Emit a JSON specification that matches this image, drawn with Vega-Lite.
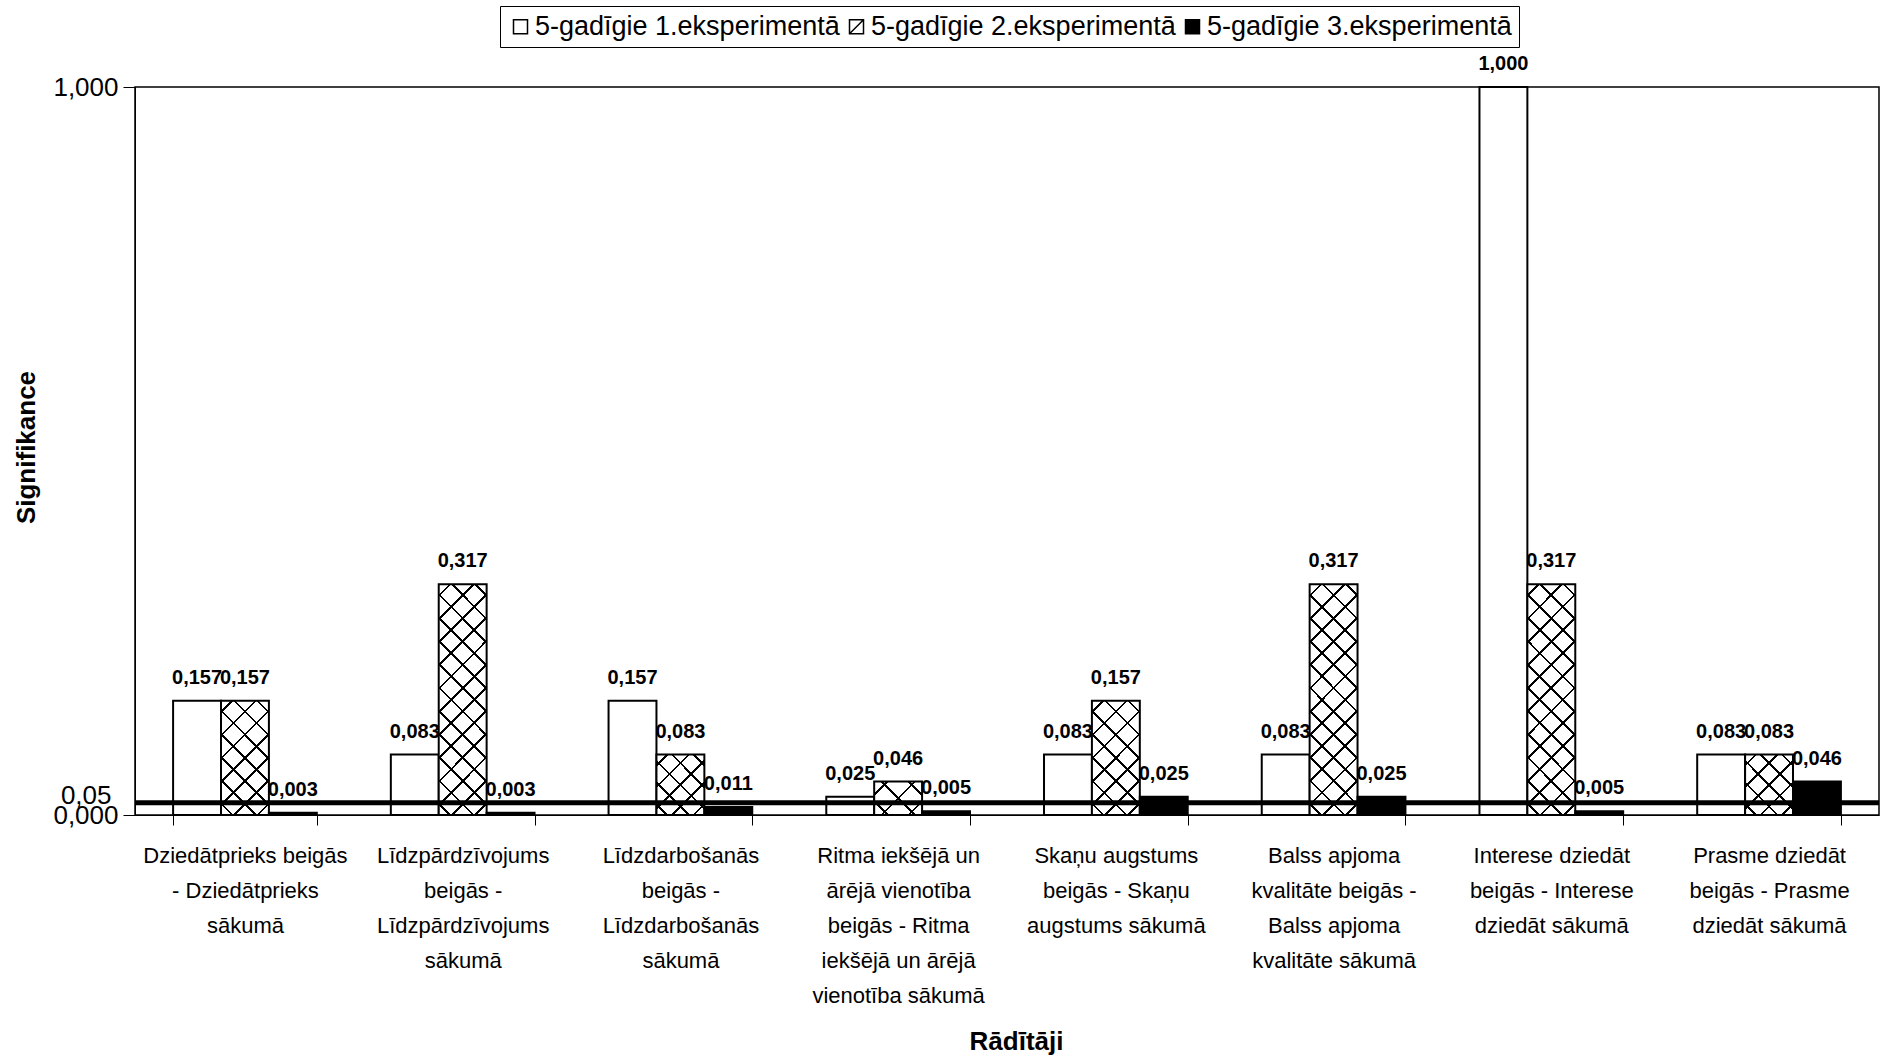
{
"$schema": "https://vega.github.io/schema/vega-lite/v6.json",
"width": 1744,
"height": 728,
"autosize": "none",
"padding": {"left": 135, "top": 87, "right": 6, "bottom": 242},
"background": "white",
"config": {
  "font": "Liberation Sans",
  "locale": {"number": {"decimal": ",", "thousands": " ", "grouping": [3], "currency": ["", ""]}},
  "view": {"stroke": "black", "strokeWidth": 1.5}
},
"data": {"values": [
  {"cat": "Dziedātprieks beigās\n- Dziedātprieks\nsākumā", "exp": "5-gadīgie 1.eksperimentā", "v": 0.157},
  {"cat": "Dziedātprieks beigās\n- Dziedātprieks\nsākumā", "exp": "5-gadīgie 2.eksperimentā", "v": 0.157},
  {"cat": "Dziedātprieks beigās\n- Dziedātprieks\nsākumā", "exp": "5-gadīgie 3.eksperimentā", "v": 0.003},
  {"cat": "Līdzpārdzīvojums\nbeigās -\nLīdzpārdzīvojums\nsākumā", "exp": "5-gadīgie 1.eksperimentā", "v": 0.083},
  {"cat": "Līdzpārdzīvojums\nbeigās -\nLīdzpārdzīvojums\nsākumā", "exp": "5-gadīgie 2.eksperimentā", "v": 0.317},
  {"cat": "Līdzpārdzīvojums\nbeigās -\nLīdzpārdzīvojums\nsākumā", "exp": "5-gadīgie 3.eksperimentā", "v": 0.003},
  {"cat": "Līdzdarbošanās\nbeigās -\nLīdzdarbošanās\nsākumā", "exp": "5-gadīgie 1.eksperimentā", "v": 0.157},
  {"cat": "Līdzdarbošanās\nbeigās -\nLīdzdarbošanās\nsākumā", "exp": "5-gadīgie 2.eksperimentā", "v": 0.083},
  {"cat": "Līdzdarbošanās\nbeigās -\nLīdzdarbošanās\nsākumā", "exp": "5-gadīgie 3.eksperimentā", "v": 0.011},
  {"cat": "Ritma iekšējā un\nārējā vienotība\nbeigās - Ritma\niekšējā un ārējā\nvienotība sākumā", "exp": "5-gadīgie 1.eksperimentā", "v": 0.025},
  {"cat": "Ritma iekšējā un\nārējā vienotība\nbeigās - Ritma\niekšējā un ārējā\nvienotība sākumā", "exp": "5-gadīgie 2.eksperimentā", "v": 0.046},
  {"cat": "Ritma iekšējā un\nārējā vienotība\nbeigās - Ritma\niekšējā un ārējā\nvienotība sākumā", "exp": "5-gadīgie 3.eksperimentā", "v": 0.005},
  {"cat": "Skaņu augstums\nbeigās - Skaņu\naugstums sākumā", "exp": "5-gadīgie 1.eksperimentā", "v": 0.083},
  {"cat": "Skaņu augstums\nbeigās - Skaņu\naugstums sākumā", "exp": "5-gadīgie 2.eksperimentā", "v": 0.157},
  {"cat": "Skaņu augstums\nbeigās - Skaņu\naugstums sākumā", "exp": "5-gadīgie 3.eksperimentā", "v": 0.025},
  {"cat": "Balss apjoma\nkvalitāte beigās -\nBalss apjoma\nkvalitāte sākumā", "exp": "5-gadīgie 1.eksperimentā", "v": 0.083},
  {"cat": "Balss apjoma\nkvalitāte beigās -\nBalss apjoma\nkvalitāte sākumā", "exp": "5-gadīgie 2.eksperimentā", "v": 0.317},
  {"cat": "Balss apjoma\nkvalitāte beigās -\nBalss apjoma\nkvalitāte sākumā", "exp": "5-gadīgie 3.eksperimentā", "v": 0.025},
  {"cat": "Interese dziedāt\nbeigās - Interese\ndziedāt sākumā", "exp": "5-gadīgie 1.eksperimentā", "v": 1.0},
  {"cat": "Interese dziedāt\nbeigās - Interese\ndziedāt sākumā", "exp": "5-gadīgie 2.eksperimentā", "v": 0.317},
  {"cat": "Interese dziedāt\nbeigās - Interese\ndziedāt sākumā", "exp": "5-gadīgie 3.eksperimentā", "v": 0.005},
  {"cat": "Prasme dziedāt\nbeigās - Prasme\ndziedāt sākumā", "exp": "5-gadīgie 1.eksperimentā", "v": 0.083},
  {"cat": "Prasme dziedāt\nbeigās - Prasme\ndziedāt sākumā", "exp": "5-gadīgie 2.eksperimentā", "v": 0.083},
  {"cat": "Prasme dziedāt\nbeigās - Prasme\ndziedāt sākumā", "exp": "5-gadīgie 3.eksperimentā", "v": 0.046}
]},
"layer": [
  {
    "encoding": {
      "x": {"field": "cat", "type": "nominal", "sort": null, "title": "Rādītāji",
        "scale": {"paddingInner": 0.34, "paddingOuter": 0.175},
        "axis": {"tickBand": "extent", "tickSize": 10, "labelPadding": 20, "labelFontSize": 22, "labelLineHeight": 35, "labelAngle": 0, "labelLimit": 400, "labelColor": "black", "domainColor": "black", "tickColor": "black", "labelOverlap": false, "labelExpr": "split(datum.label, '\\n')", "titleFontSize": 26, "titleFontWeight": "bold", "titleColor": "black", "titleX": 881, "titleY": 226, "titleBaseline": "middle"}},
      "xOffset": {"field": "exp", "type": "nominal", "scale": {"domain": ["5-gadīgie 1.eksperimentā", "5-gadīgie 2.eksperimentā", "5-gadīgie 3.eksperimentā"], "paddingInner": 0, "paddingOuter": 0}},
      "y": {"field": "v", "type": "quantitative", "title": "Signifikance",
        "scale": {"domain": [0, 1], "nice": false},
        "axis": {"values": [0, 1], "format": ".3f", "tickSize": 12, "labelPadding": 5, "labelFontSize": 26, "labelColor": "black", "domainColor": "black", "tickColor": "black", "grid": false, "labelOverlap": false, "labelFlush": false, "titleFontSize": 26, "titleFontWeight": "bold", "titleColor": "black", "titleX": -109, "titleY": 360, "titleBaseline": "middle"}}
    },
    "layer": [
      {
        "mark": {"type": "bar", "stroke": "black", "strokeWidth": 2},
        "encoding": {
          "fill": {"field": "exp", "type": "nominal",
            "scale": {"domain": ["5-gadīgie 1.eksperimentā", "5-gadīgie 2.eksperimentā", "5-gadīgie 3.eksperimentā"], "range": ["white", "white", "black"]},
            "legend": {"orient": "none", "legendX": 365, "legendY": -81, "direction": "horizontal", "title": null, "strokeColor": "black", "padding": 7, "symbolType": "square", "symbolSize": 196, "symbolStrokeColor": "black", "symbolStrokeWidth": 1.5, "labelFontSize": 27, "labelLimit": 500, "labelOffset": 1, "columnPadding": 3, "labelColor": "black",
              "encode": {"symbols": {"update": {
                "stroke": {"value": "black"},
                "strokeWidth": {"value": 1.5},
                "shape": [
                  {"test": "datum.value === '5-gadīgie 2.eksperimentā'", "value": "M-1,-1H1V1H-1Z M-1,1L1,-1"},
                  {"value": "square"}
                ]
              }}}}
          }
        }
      },
      {
        "transform": [{"filter": "datum.exp === '5-gadīgie 2.eksperimentā'"}],
        "mark": {"type": "bar", "strokeWidth": 0},
        "encoding": {
          "fill": {"condition": [
            {"test": "datum.v > 0.3", "value": {"gradient": "linear", "x1": 0, "y1": 0, "x2": 0.241, "y2": 1.158, "stops": [
              {"offset": 0, "color": "transparent"},
              {"offset": 0.0367, "color": "transparent"}, {"offset": 0.0367, "color": "#000"}, {"offset": 0.0467, "color": "#000"}, {"offset": 0.0467, "color": "transparent"},
              {"offset": 0.12, "color": "transparent"}, {"offset": 0.12, "color": "#000"}, {"offset": 0.13, "color": "#000"}, {"offset": 0.13, "color": "transparent"},
              {"offset": 0.2033, "color": "transparent"}, {"offset": 0.2033, "color": "#000"}, {"offset": 0.2133, "color": "#000"}, {"offset": 0.2133, "color": "transparent"},
              {"offset": 0.2867, "color": "transparent"}, {"offset": 0.2867, "color": "#000"}, {"offset": 0.2967, "color": "#000"}, {"offset": 0.2967, "color": "transparent"},
              {"offset": 0.37, "color": "transparent"}, {"offset": 0.37, "color": "#000"}, {"offset": 0.38, "color": "#000"}, {"offset": 0.38, "color": "transparent"},
              {"offset": 0.4533, "color": "transparent"}, {"offset": 0.4533, "color": "#000"}, {"offset": 0.4633, "color": "#000"}, {"offset": 0.4633, "color": "transparent"},
              {"offset": 0.5367, "color": "transparent"}, {"offset": 0.5367, "color": "#000"}, {"offset": 0.5467, "color": "#000"}, {"offset": 0.5467, "color": "transparent"},
              {"offset": 0.62, "color": "transparent"}, {"offset": 0.62, "color": "#000"}, {"offset": 0.63, "color": "#000"}, {"offset": 0.63, "color": "transparent"},
              {"offset": 0.7033, "color": "transparent"}, {"offset": 0.7033, "color": "#000"}, {"offset": 0.7133, "color": "#000"}, {"offset": 0.7133, "color": "transparent"},
              {"offset": 0.7867, "color": "transparent"}, {"offset": 0.7867, "color": "#000"}, {"offset": 0.7967, "color": "#000"}, {"offset": 0.7967, "color": "transparent"},
              {"offset": 0.87, "color": "transparent"}, {"offset": 0.87, "color": "#000"}, {"offset": 0.88, "color": "#000"}, {"offset": 0.88, "color": "transparent"},
              {"offset": 0.9533, "color": "transparent"}, {"offset": 0.9533, "color": "#000"}, {"offset": 0.9633, "color": "#000"}, {"offset": 0.9633, "color": "transparent"},
              {"offset": 1, "color": "transparent"}]}},
            {"test": "datum.v > 0.12", "value": {"gradient": "linear", "x1": 0, "y1": 0, "x2": 0.507, "y2": 1.207, "stops": [
              {"offset": 0, "color": "transparent"},
              {"offset": 0.0634, "color": "transparent"}, {"offset": 0.0634, "color": "#000"}, {"offset": 0.0794, "color": "#000"}, {"offset": 0.0794, "color": "transparent"},
              {"offset": 0.2063, "color": "transparent"}, {"offset": 0.2063, "color": "#000"}, {"offset": 0.2223, "color": "#000"}, {"offset": 0.2223, "color": "transparent"},
              {"offset": 0.3491, "color": "transparent"}, {"offset": 0.3491, "color": "#000"}, {"offset": 0.3651, "color": "#000"}, {"offset": 0.3651, "color": "transparent"},
              {"offset": 0.492, "color": "transparent"}, {"offset": 0.492, "color": "#000"}, {"offset": 0.508, "color": "#000"}, {"offset": 0.508, "color": "transparent"},
              {"offset": 0.6349, "color": "transparent"}, {"offset": 0.6349, "color": "#000"}, {"offset": 0.6509, "color": "#000"}, {"offset": 0.6509, "color": "transparent"},
              {"offset": 0.7777, "color": "transparent"}, {"offset": 0.7777, "color": "#000"}, {"offset": 0.7937, "color": "#000"}, {"offset": 0.7937, "color": "transparent"},
              {"offset": 0.9206, "color": "transparent"}, {"offset": 0.9206, "color": "#000"}, {"offset": 0.9366, "color": "#000"}, {"offset": 0.9366, "color": "transparent"},
              {"offset": 1, "color": "transparent"}]}},
            {"test": "datum.v > 0.06", "value": {"gradient": "linear", "x1": 0, "y1": 0, "x2": 0.874, "y2": 1.1, "stops": [
              {"offset": 0, "color": "transparent"},
              {"offset": 0.088, "color": "transparent"}, {"offset": 0.088, "color": "#000"}, {"offset": 0.112, "color": "#000"}, {"offset": 0.112, "color": "transparent"},
              {"offset": 0.288, "color": "transparent"}, {"offset": 0.288, "color": "#000"}, {"offset": 0.312, "color": "#000"}, {"offset": 0.312, "color": "transparent"},
              {"offset": 0.488, "color": "transparent"}, {"offset": 0.488, "color": "#000"}, {"offset": 0.512, "color": "#000"}, {"offset": 0.512, "color": "transparent"},
              {"offset": 0.688, "color": "transparent"}, {"offset": 0.688, "color": "#000"}, {"offset": 0.712, "color": "#000"}, {"offset": 0.712, "color": "transparent"},
              {"offset": 0.888, "color": "transparent"}, {"offset": 0.888, "color": "#000"}, {"offset": 0.912, "color": "#000"}, {"offset": 0.912, "color": "transparent"},
              {"offset": 1, "color": "transparent"}]}}
          ],
          "value": {"gradient": "linear", "x1": 0, "y1": 0, "x2": 1.142, "y2": 0.797, "stops": [
              {"offset": 0, "color": "transparent"},
              {"offset": 0.1507, "color": "transparent"}, {"offset": 0.1507, "color": "#000"}, {"offset": 0.1827, "color": "#000"}, {"offset": 0.1827, "color": "transparent"},
              {"offset": 0.484, "color": "transparent"}, {"offset": 0.484, "color": "#000"}, {"offset": 0.516, "color": "#000"}, {"offset": 0.516, "color": "transparent"},
              {"offset": 0.8173, "color": "transparent"}, {"offset": 0.8173, "color": "#000"}, {"offset": 0.8493, "color": "#000"}, {"offset": 0.8493, "color": "transparent"},
              {"offset": 1, "color": "transparent"}]}}
        }
      },
      {
        "transform": [{"filter": "datum.exp === '5-gadīgie 2.eksperimentā'"}],
        "mark": {"type": "bar", "strokeWidth": 0},
        "encoding": {
          "fill": {"condition": [
            {"test": "datum.v > 0.3", "value": {"gradient": "linear", "x1": 1, "y1": 0, "x2": 0.759, "y2": 1.158, "stops": [
              {"offset": 0, "color": "transparent"},
              {"offset": 0.0367, "color": "transparent"}, {"offset": 0.0367, "color": "#000"}, {"offset": 0.0467, "color": "#000"}, {"offset": 0.0467, "color": "transparent"},
              {"offset": 0.12, "color": "transparent"}, {"offset": 0.12, "color": "#000"}, {"offset": 0.13, "color": "#000"}, {"offset": 0.13, "color": "transparent"},
              {"offset": 0.2033, "color": "transparent"}, {"offset": 0.2033, "color": "#000"}, {"offset": 0.2133, "color": "#000"}, {"offset": 0.2133, "color": "transparent"},
              {"offset": 0.2867, "color": "transparent"}, {"offset": 0.2867, "color": "#000"}, {"offset": 0.2967, "color": "#000"}, {"offset": 0.2967, "color": "transparent"},
              {"offset": 0.37, "color": "transparent"}, {"offset": 0.37, "color": "#000"}, {"offset": 0.38, "color": "#000"}, {"offset": 0.38, "color": "transparent"},
              {"offset": 0.4533, "color": "transparent"}, {"offset": 0.4533, "color": "#000"}, {"offset": 0.4633, "color": "#000"}, {"offset": 0.4633, "color": "transparent"},
              {"offset": 0.5367, "color": "transparent"}, {"offset": 0.5367, "color": "#000"}, {"offset": 0.5467, "color": "#000"}, {"offset": 0.5467, "color": "transparent"},
              {"offset": 0.62, "color": "transparent"}, {"offset": 0.62, "color": "#000"}, {"offset": 0.63, "color": "#000"}, {"offset": 0.63, "color": "transparent"},
              {"offset": 0.7033, "color": "transparent"}, {"offset": 0.7033, "color": "#000"}, {"offset": 0.7133, "color": "#000"}, {"offset": 0.7133, "color": "transparent"},
              {"offset": 0.7867, "color": "transparent"}, {"offset": 0.7867, "color": "#000"}, {"offset": 0.7967, "color": "#000"}, {"offset": 0.7967, "color": "transparent"},
              {"offset": 0.87, "color": "transparent"}, {"offset": 0.87, "color": "#000"}, {"offset": 0.88, "color": "#000"}, {"offset": 0.88, "color": "transparent"},
              {"offset": 0.9533, "color": "transparent"}, {"offset": 0.9533, "color": "#000"}, {"offset": 0.9633, "color": "#000"}, {"offset": 0.9633, "color": "transparent"},
              {"offset": 1, "color": "transparent"}]}},
            {"test": "datum.v > 0.12", "value": {"gradient": "linear", "x1": 1, "y1": 0, "x2": 0.493, "y2": 1.207, "stops": [
              {"offset": 0, "color": "transparent"},
              {"offset": 0.0634, "color": "transparent"}, {"offset": 0.0634, "color": "#000"}, {"offset": 0.0794, "color": "#000"}, {"offset": 0.0794, "color": "transparent"},
              {"offset": 0.2063, "color": "transparent"}, {"offset": 0.2063, "color": "#000"}, {"offset": 0.2223, "color": "#000"}, {"offset": 0.2223, "color": "transparent"},
              {"offset": 0.3491, "color": "transparent"}, {"offset": 0.3491, "color": "#000"}, {"offset": 0.3651, "color": "#000"}, {"offset": 0.3651, "color": "transparent"},
              {"offset": 0.492, "color": "transparent"}, {"offset": 0.492, "color": "#000"}, {"offset": 0.508, "color": "#000"}, {"offset": 0.508, "color": "transparent"},
              {"offset": 0.6349, "color": "transparent"}, {"offset": 0.6349, "color": "#000"}, {"offset": 0.6509, "color": "#000"}, {"offset": 0.6509, "color": "transparent"},
              {"offset": 0.7777, "color": "transparent"}, {"offset": 0.7777, "color": "#000"}, {"offset": 0.7937, "color": "#000"}, {"offset": 0.7937, "color": "transparent"},
              {"offset": 0.9206, "color": "transparent"}, {"offset": 0.9206, "color": "#000"}, {"offset": 0.9366, "color": "#000"}, {"offset": 0.9366, "color": "transparent"},
              {"offset": 1, "color": "transparent"}]}},
            {"test": "datum.v > 0.06", "value": {"gradient": "linear", "x1": 1, "y1": 0, "x2": 0.126, "y2": 1.1, "stops": [
              {"offset": 0, "color": "transparent"},
              {"offset": 0.088, "color": "transparent"}, {"offset": 0.088, "color": "#000"}, {"offset": 0.112, "color": "#000"}, {"offset": 0.112, "color": "transparent"},
              {"offset": 0.288, "color": "transparent"}, {"offset": 0.288, "color": "#000"}, {"offset": 0.312, "color": "#000"}, {"offset": 0.312, "color": "transparent"},
              {"offset": 0.488, "color": "transparent"}, {"offset": 0.488, "color": "#000"}, {"offset": 0.512, "color": "#000"}, {"offset": 0.512, "color": "transparent"},
              {"offset": 0.688, "color": "transparent"}, {"offset": 0.688, "color": "#000"}, {"offset": 0.712, "color": "#000"}, {"offset": 0.712, "color": "transparent"},
              {"offset": 0.888, "color": "transparent"}, {"offset": 0.888, "color": "#000"}, {"offset": 0.912, "color": "#000"}, {"offset": 0.912, "color": "transparent"},
              {"offset": 1, "color": "transparent"}]}}
          ],
          "value": {"gradient": "linear", "x1": 1, "y1": 0, "x2": -0.142, "y2": 0.797, "stops": [
              {"offset": 0, "color": "transparent"},
              {"offset": 0.1507, "color": "transparent"}, {"offset": 0.1507, "color": "#000"}, {"offset": 0.1827, "color": "#000"}, {"offset": 0.1827, "color": "transparent"},
              {"offset": 0.484, "color": "transparent"}, {"offset": 0.484, "color": "#000"}, {"offset": 0.516, "color": "#000"}, {"offset": 0.516, "color": "transparent"},
              {"offset": 0.8173, "color": "transparent"}, {"offset": 0.8173, "color": "#000"}, {"offset": 0.8493, "color": "#000"}, {"offset": 0.8493, "color": "transparent"},
              {"offset": 1, "color": "transparent"}]}}
        }
      },
      {
        "mark": {"type": "text", "fontWeight": "bold", "fontSize": 20, "baseline": "alphabetic", "dy": -17, "color": "black"},
        "encoding": {
          "text": {"field": "v", "type": "quantitative", "format": ".3f"}
        }
      }
    ]
  },
  {
    "data": {"values": [{"t": 0.05}]},
    "mark": {"type": "rule", "strokeWidth": 5, "color": "black"},
    "encoding": {
      "y": {"field": "t", "type": "quantitative", "scale": {"domain": [0, 3], "nice": false},
        "axis": {"orient": "right", "offset": -1744, "values": [0.05], "format": ".2f", "domain": false, "ticks": false, "grid": false, "labelAlign": "right", "labelPadding": -24, "labelOffset": -7, "labelFontSize": 26, "labelColor": "black", "title": null, "labelFlush": false, "labelOverlap": false}}
    }
  }
],
"resolve": {"scale": {"y": "independent"}}
}
